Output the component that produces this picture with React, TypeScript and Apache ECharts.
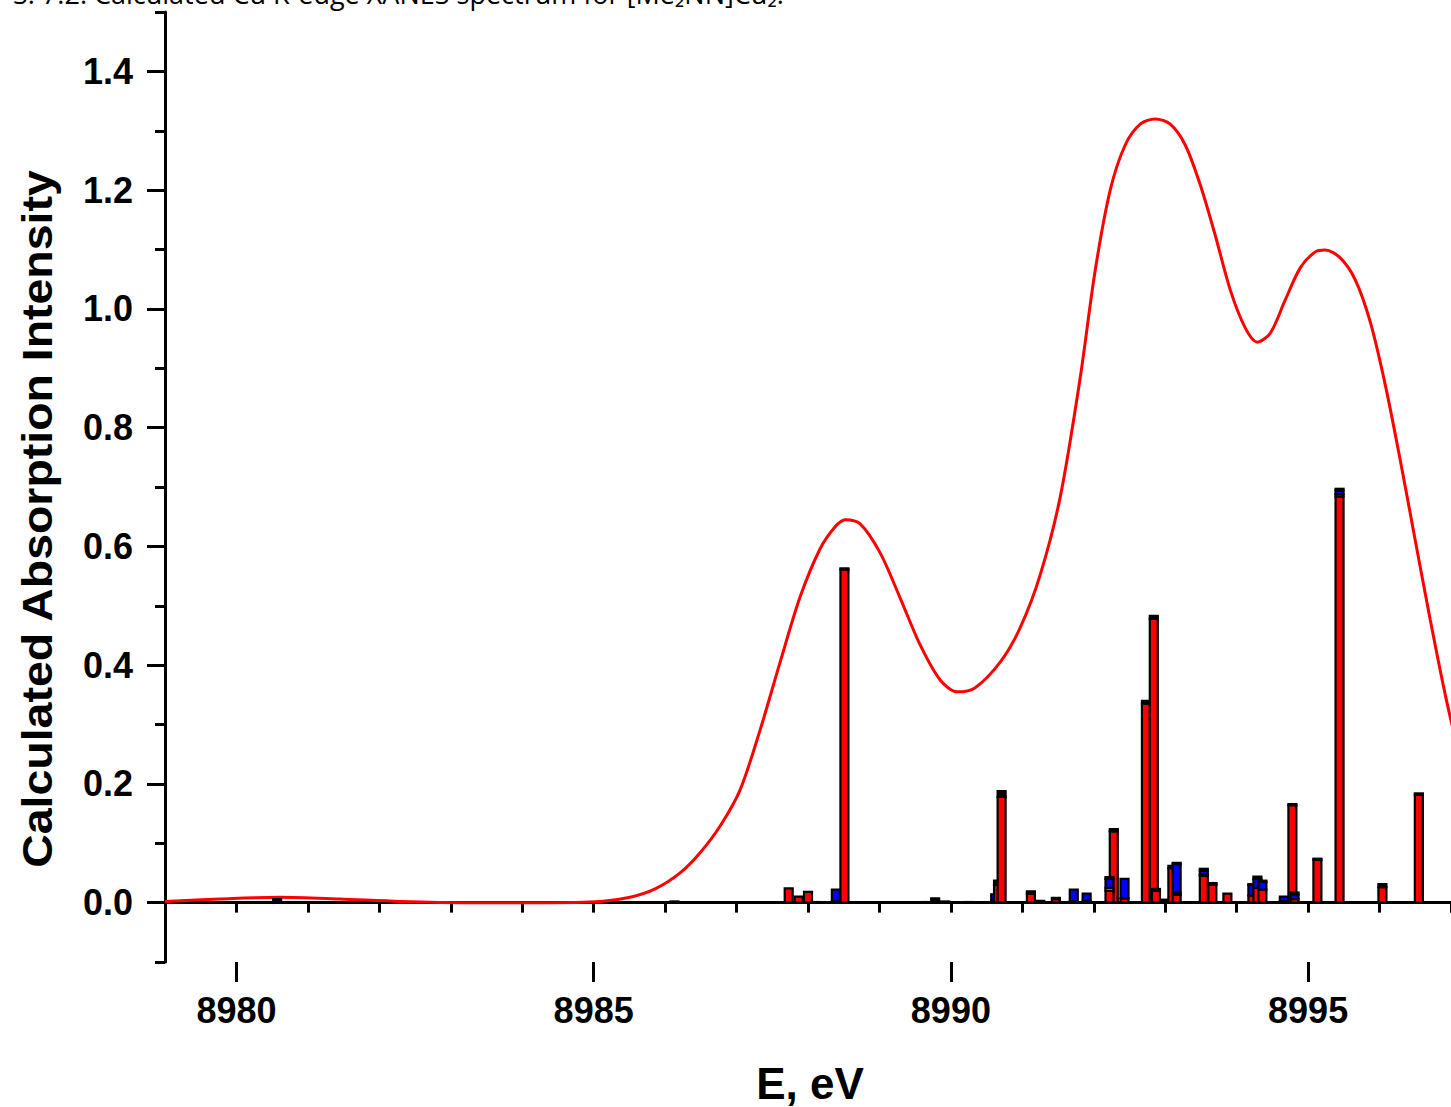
import React, { useEffect, useRef } from 'react';
import * as echarts from 'echarts';

// Broadened calculated spectrum (energy in eV, intensity)
const curveE = [
  8979.0, 8979.77, 8980.61, 8981.45, 8982.29, 8983.27, 8984.26, 8985.1, 8985.51, 8985.86,
  8986.21, 8986.49, 8986.77, 8987.05, 8987.33, 8987.61, 8987.89, 8988.17, 8988.38, 8988.52,
  8988.73, 8989.01, 8989.29, 8989.57, 8989.85, 8990.09, 8990.34, 8990.69, 8990.97, 8991.25,
  8991.53, 8991.81, 8992.02, 8992.23, 8992.44, 8992.65, 8992.86, 8993.07, 8993.28, 8993.49,
  8993.7, 8993.91, 8994.12, 8994.29, 8994.47, 8994.68, 8994.89, 8995.1, 8995.24, 8995.45,
  8995.66, 8995.87, 8996.08, 8996.29, 8996.5, 8996.71, 8996.92, 8997.13,
];
const curveI = [
  0.002, 0.006, 0.009, 0.006, 0.002, 0.0, 0.0, 0.002, 0.009, 0.023,
  0.05, 0.084, 0.129, 0.19, 0.291, 0.405, 0.515, 0.596, 0.633, 0.645,
  0.638, 0.589, 0.513, 0.434, 0.375, 0.355, 0.362, 0.405, 0.463, 0.552,
  0.683, 0.884, 1.065, 1.2, 1.276, 1.311, 1.32, 1.311, 1.276, 1.209,
  1.124, 1.032, 0.968, 0.944, 0.959, 1.015, 1.069, 1.096, 1.099, 1.086,
  1.049, 0.978, 0.872, 0.745, 0.61, 0.476, 0.35, 0.24,
];

// Stick transitions, stacked contributions (red, green, blue, black)
const stickE = [
  8980.57, 8986.13, 8987.73, 8987.87, 8988.0, 8988.1, 8988.39, 8988.51, 8989.65, 8989.78,
  8989.92, 8990.25, 8990.62, 8990.66, 8990.71, 8991.12, 8991.25, 8991.47, 8991.72, 8991.9,
  8992.28, 8992.22, 8992.43, 8992.73, 8992.84, 8992.87, 8993.0, 8993.1, 8993.16, 8993.54,
  8993.66, 8993.87, 8994.22, 8994.29, 8994.36, 8994.66, 8994.78, 8994.81, 8995.13, 8995.44,
  8996.04, 8996.55,
];
const stickRed = [
  0, 0, 0.024, 0.01, 0.018, 0, 0.002, 0.561, 0, 0,
  0, 0, 0.003, 0.03, 0.178, 0.015, 0, 0.006, 0.002, 0.003,
  0.12, 0.02, 0.007, 0.335, 0.478, 0.02, 0.001, 0.058, 0.013, 0.045,
  0.03, 0.015, 0.012, 0.025, 0.022, 0.002, 0.164, 0.006, 0.072, 0.684,
  0.026, 0.182,
];
const stickGreen = [
  0, 0, 0, 0, 0, 0, 0, 0, 0, 0,
  0, 0, 0, 0, 0, 0, 0, 0, 0, 0,
  0, 0.005, 0, 0, 0, 0, 0, 0, 0.004, 0.002,
  0, 0, 0, 0, 0, 0, 0, 0, 0, 0.004,
  0, 0,
];
const stickBlue = [
  0, 0, 0, 0, 0, 0, 0.02, 0, 0, 0,
  0, 0, 0.011, 0, 0, 0, 0, 0, 0.02, 0.012,
  0, 0.015, 0.033, 0, 0, 0, 0.003, 0, 0.048, 0.007,
  0.002, 0, 0.018, 0.015, 0.013, 0.008, 0, 0.008, 0, 0.006,
  0, 0,
];
const stickBlack = [
  0.006, 0.002, 0, 0, 0, 0.001, 0, 0.002, 0.001, 0.007,
  0.002, 0.001, 0, 0.007, 0.01, 0.004, 0.003, 0.002, 0, 0,
  0.004, 0.003, 0, 0.005, 0.005, 0.003, 0.001, 0.004, 0.002, 0.003,
  0.001, 0, 0.001, 0.004, 0.002, 0, 0.002, 0.003, 0.002, 0.003,
  0.005, 0.002,
];

const xMajorTicks = [8980, 8985, 8990, 8995];
const yMajorTicks = [0.0, 0.2, 0.4, 0.6, 0.8, 1.0, 1.2, 1.4];

const titleText = 'S. 7.2. Calculated Cu K-edge XANES spectrum for [Me\u2082NN]Cu\u2082.';
const yTitle = 'Calculated Absorption Intensity';
const xTitle = 'E, eV';

export default function App() {
  const ref = useRef<HTMLDivElement>(null);

  useEffect(() => {
    const el = ref.current;
    if (!el) return;
    const chart = echarts.init(el, null, { renderer: 'svg' });

    const W = 1451;
    const H = 1107;
    const left = 165;
    const top = 12;
    const bottom = 145;
    const xMin = 8979;
    const xMax = 8997;
    const yMin = -0.1;
    const yMax = 1.5;
    const plotH = H - bottom - top;
    const py = plotH / (yMax - yMin);
    const plotW = W - left;
    const px = plotW / (xMax - xMin);

    const yMajMin = yMajorTicks[0];
    const yMajMax = yMajorTicks[yMajorTicks.length - 1];
    const g1Top = top + (yMax - yMajMax) * py;
    const g1Bottom = bottom + (yMajMin - yMin) * py;

    const xMajMin = xMajorTicks[0];
    const xMajMax = xMajorTicks[xMajorTicks.length - 1];
    const g2Left = left + (xMajMin - xMin) * px;
    const g2Right = (xMax - xMajMax) * px;

    const font = 'Liberation Sans';
    const lineColor = '#000';

    const colors = ['#ff0000', '#00ff00', '#0000ff', '#000000'];
    const stickData = stickE.map((e, i) => [e, stickRed[i], stickGreen[i], stickBlue[i], stickBlack[i]]);

    chart.setOption({
      animation: false,
      backgroundColor: '#fff',
      grid: [
        { left, right: 0, top, bottom, containLabel: false },
        { left, right: 0, top: g1Top, bottom: g1Bottom, containLabel: false },
        { left: g2Left, right: g2Right, top, bottom, containLabel: false },
      ],
      xAxis: [
        {
          type: 'value', gridIndex: 0, min: xMin, max: xMax, interval: 1,
          axisLine: { show: true, lineStyle: { color: lineColor, width: 3 } },
          axisTick: { show: true, length: 10, lineStyle: { color: lineColor, width: 3 } },
          axisLabel: { show: false },
          splitLine: { show: false },
        },
        { type: 'value', gridIndex: 1, min: 0, max: 1, show: false },
        {
          type: 'value', gridIndex: 2, min: xMajMin, max: xMajMax, interval: 5,
          axisLine: { show: false },
          axisTick: { show: true, length: 20, lineStyle: { color: lineColor, width: 3 } },
          axisLabel: {
            show: true, margin: 30, color: '#000', fontFamily: font, fontWeight: 'bold', fontSize: 36,
            formatter: (v: number) => String(v),
          },
          splitLine: { show: false },
        },
      ],
      yAxis: [
        {
          type: 'value', gridIndex: 0, min: yMin, max: yMax, interval: 0.1,
          axisLine: { show: true, lineStyle: { color: lineColor, width: 3 } },
          axisTick: { show: true, length: 10, lineStyle: { color: lineColor, width: 3 } },
          axisLabel: { show: false },
          splitLine: { show: false },
        },
        {
          type: 'value', gridIndex: 1, min: yMajMin, max: yMajMax, interval: 0.2,
          axisLine: { show: false },
          axisTick: { show: true, length: 18, lineStyle: { color: lineColor, width: 3 } },
          axisLabel: {
            show: true, margin: 32, color: '#000', fontFamily: font, fontWeight: 'bold', fontSize: 36,
            formatter: (v: number) => v.toFixed(1),
          },
          splitLine: { show: false },
        },
        { type: 'value', gridIndex: 2, min: 0, max: 1, show: false },
      ],
      series: [
        {
          type: 'line',
          xAxisIndex: 0,
          yAxisIndex: 0,
          data: curveE.map((e, i) => [e, curveI[i]]),
          smooth: 0.3,
          symbol: 'none',
          lineStyle: { color: '#ff0000', width: 3 },
          clip: true,
          z: 2,
        },
        {
          type: 'custom',
          xAxisIndex: 0,
          yAxisIndex: 0,
          data: stickData,
          encode: { x: 0, y: 1 },
          clip: true,
          z: 3,
          renderItem: (params: any, api: any) => {
            const e = api.value(0);
            const base = api.coord([e, 0]);
            const w = 8;
            const children: any[] = [];
            let acc = 0;
            for (let k = 0; k < 4; k++) {
              const v = api.value(k + 1);
              if (v > 0) {
                const p0 = api.coord([e, acc]);
                const p1 = api.coord([e, acc + v]);
                children.push({
                  type: 'rect',
                  shape: { x: base[0] - w / 2, y: p1[1], width: w, height: Math.max(p0[1] - p1[1], 0.8) },
                  style: { fill: colors[k], stroke: '#000', lineWidth: 2.2 },
                });
                acc += v;
              }
            }
            return { type: 'group', children };
          },
        },
      ],
      graphic: [
        {
          type: 'text',
          x: 13,
          y: -7,
          style: {
            text: titleText,
            font: '27px "Open Sans"',
            fill: '#000',
            textAlign: 'left',
            align: 'left',
            textVerticalAlign: 'middle',
            verticalAlign: 'middle',
          },
        },
        {
          type: 'text',
          x: 37,
          y: 519,
          rotation: Math.PI / 2,
          scaleX: 1.08,
          style: {
            text: yTitle,
            font: 'bold 43px "Liberation Sans"',
            fill: '#000',
            textAlign: 'center',
            align: 'center',
            textVerticalAlign: 'middle',
            verticalAlign: 'middle',
          },
        },
        {
          type: 'text',
          x: 810,
          y: 1083,
          style: {
            text: xTitle,
            font: 'bold 44px "Liberation Sans"',
            fill: '#000',
            textAlign: 'center',
            align: 'center',
            textVerticalAlign: 'middle',
            verticalAlign: 'middle',
          },
        },
      ],
    });

    return () => chart.dispose();
  }, []);

  return (
    <div
      ref={ref}
      style={{ position: 'absolute', left: 0, top: 0, width: 1451, height: 1107, background: '#fff' }}
    />
  );
}
